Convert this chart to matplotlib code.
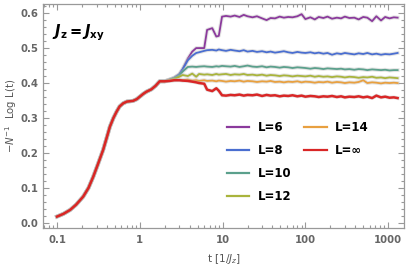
import matplotlib
matplotlib.use("Agg")
import matplotlib.pyplot as plt
import matplotlib.patheffects as pe
from matplotlib.ticker import FixedLocator, FixedFormatter, LogLocator, NullFormatter, MultipleLocator
from matplotlib.lines import Line2D

# shared early-time curve (all L coincide here)
t_early = [0.1, 0.12, 0.144, 0.17, 0.207, 0.24, 0.274, 0.31, 0.361, 0.40, 0.435, 0.48,
           0.524, 0.57, 0.63, 0.70, 0.83, 0.92, 1.0, 1.1, 1.2, 1.38, 1.55, 1.74, 2.0]
y_early = [0.018, 0.026, 0.037, 0.052, 0.075, 0.100, 0.132, 0.166, 0.209, 0.245, 0.275, 0.300,
           0.318, 0.333, 0.342, 0.347, 0.349, 0.354, 0.361, 0.369, 0.375, 0.382, 0.392, 0.405, 0.405]

t_late = [2.3, 2.6, 3.0, 3.3, 3.8, 4.3, 4.8, 5.2, 6.0, 6.5,
          7.5, 8.4, 9.0, 9.85, 11, 12.5, 14, 16, 18, 20,
          23, 26, 30, 34, 38, 43, 49, 55, 62, 70,
          80, 90, 100, 115, 130, 145, 165, 185, 210, 240,
          270, 300, 340, 390, 440, 500, 560, 640, 720, 820,
          920, 1040, 1170, 1300]

y_L6 = [0.410, 0.415, 0.425, 0.440, 0.470, 0.490, 0.500, 0.500, 0.500, 0.552,
        0.557, 0.533, 0.535, 0.590, 0.592, 0.590, 0.593, 0.589, 0.595, 0.591,
        0.588, 0.591, 0.585, 0.580, 0.586, 0.585, 0.590, 0.587, 0.589, 0.588,
        0.591, 0.597, 0.583, 0.588, 0.582, 0.589, 0.586, 0.590, 0.584, 0.587,
        0.585, 0.590, 0.586, 0.587, 0.582, 0.589, 0.587, 0.577, 0.591, 0.579,
        0.589, 0.585, 0.588, 0.587]
y_L8 = [0.410, 0.415, 0.425, 0.440, 0.465, 0.478, 0.486, 0.488, 0.492, 0.494,
        0.495, 0.493, 0.496, 0.494, 0.492, 0.495, 0.493, 0.491, 0.494, 0.490,
        0.492, 0.489, 0.491, 0.488, 0.490, 0.487, 0.489, 0.491, 0.488, 0.486,
        0.489, 0.487, 0.486, 0.488, 0.485, 0.487, 0.484, 0.486, 0.481, 0.485,
        0.483, 0.486, 0.484, 0.482, 0.485, 0.483, 0.486, 0.482, 0.484, 0.481,
        0.483, 0.482, 0.484, 0.486]
y_L10 = [0.410, 0.414, 0.422, 0.433, 0.446, 0.447, 0.446, 0.447, 0.448, 0.447,
         0.446, 0.448, 0.447, 0.449, 0.448, 0.447, 0.449, 0.446, 0.448, 0.450,
         0.447, 0.446, 0.448, 0.445, 0.447, 0.446, 0.444, 0.446, 0.445, 0.443,
         0.445, 0.444, 0.443, 0.441, 0.443, 0.442, 0.440, 0.442, 0.441, 0.440,
         0.441, 0.439, 0.440, 0.438, 0.440, 0.439, 0.437, 0.439, 0.438, 0.437,
         0.438, 0.436, 0.437, 0.437]
y_L12 = [0.409, 0.412, 0.418, 0.423, 0.420, 0.427, 0.418, 0.426, 0.424, 0.425,
         0.423, 0.426, 0.424, 0.425, 0.426, 0.423, 0.425, 0.424, 0.426, 0.423,
         0.424, 0.422, 0.424, 0.421, 0.423, 0.422, 0.420, 0.422, 0.421, 0.419,
         0.421, 0.420, 0.419, 0.421, 0.418, 0.420, 0.418, 0.419, 0.417, 0.419,
         0.418, 0.416, 0.418, 0.417, 0.415, 0.417, 0.416, 0.418, 0.415, 0.416,
         0.414, 0.416, 0.415, 0.414]
y_L14 = [0.407, 0.408, 0.409, 0.408, 0.410, 0.407, 0.408, 0.406, 0.408, 0.406,
         0.407, 0.405, 0.407, 0.406, 0.404, 0.406, 0.405, 0.407, 0.404, 0.406,
         0.405, 0.403, 0.405, 0.404, 0.406, 0.403, 0.404, 0.402, 0.404, 0.403,
         0.405, 0.402, 0.404, 0.403, 0.401, 0.403, 0.402, 0.404, 0.401, 0.403,
         0.402, 0.400, 0.402, 0.401, 0.403, 0.408, 0.400, 0.402, 0.401, 0.399,
         0.401, 0.400, 0.401, 0.400]
y_Linf = [0.406, 0.408, 0.408, 0.407, 0.406, 0.404, 0.402, 0.400, 0.398, 0.381,
          0.377, 0.385, 0.378, 0.365, 0.364, 0.366, 0.365, 0.367, 0.364, 0.366,
          0.365, 0.367, 0.363, 0.366, 0.364, 0.365, 0.362, 0.364, 0.363, 0.365,
          0.362, 0.364, 0.361, 0.363, 0.362, 0.360, 0.362, 0.361, 0.363, 0.360,
          0.362, 0.359, 0.361, 0.360, 0.362, 0.359, 0.361, 0.357, 0.364, 0.359,
          0.361, 0.358, 0.359, 0.357]

labels = ["L=6", "L=8", "L=10", "L=12", "L=14", "L=\u221e"]
colors = ["#8b3a9c", "#4a6ed0", "#5ba08c", "#a9b43c", "#e8a040", "#d92626"]
series = [y_L6, y_L8, y_L10, y_L12, y_L14, y_Linf]

fig = plt.figure(figsize=(4.07, 2.69), dpi=100)
ax = fig.add_axes([0.106, 0.152, 0.887, 0.833])

halo = [pe.Stroke(linewidth=2.8, foreground="#bbbbbb", alpha=0.4), pe.Normal()]
handles = []
for lab, col, ys in zip(labels, colors, series):
    lw = 1.8 if lab == "L=\u221e" else 1.3
    ax.plot(t_early + t_late, y_early + ys, color=col, lw=lw, path_effects=halo,
            solid_joinstyle="round")
    handles.append(Line2D([], [], color=col, lw=1.6))

ax.set_xscale("log")
ax.set_xlim(0.068, 1560)
ax.set_ylim(-0.015, 0.626)

grey = "#999999"
for s in ax.spines.values():
    s.set_color(grey)
    s.set_linewidth(0.9)

ax.xaxis.set_major_locator(FixedLocator([0.1, 1, 10, 100, 1000]))
ax.xaxis.set_major_formatter(FixedFormatter(["0.1", "1", "10", "100", "1000"]))
ax.xaxis.set_minor_locator(LogLocator(base=10, subs=range(2, 10)))
ax.xaxis.set_minor_formatter(NullFormatter())
ax.yaxis.set_major_locator(MultipleLocator(0.1))
ax.yaxis.set_minor_locator(MultipleLocator(0.02))
ax.yaxis.set_major_formatter(plt.FuncFormatter(lambda v, p: f"{v:.1f}"))

ax.tick_params(which="both", direction="in", top=True, right=True, color=grey, width=0.8)
ax.tick_params(which="major", length=4.5)
ax.tick_params(which="minor", length=2.5)
for lbl in ax.get_xticklabels() + ax.get_yticklabels():
    lbl.set_fontsize(7.3)
    lbl.set_fontweight("bold")
    lbl.set_color("#666666")
ax.tick_params(axis="x", pad=5)
ax.tick_params(axis="y", pad=3.5)

ax.set_xlabel(r"t [1/$J_z$]", fontsize=7.5, color="#555555", labelpad=5)
ax.set_ylabel(r"$-N^{-1}$  Log L(t)", fontsize=7.3, color="#555555")
ax.yaxis.set_label_coords(-0.068, 0.5)

ax.text(0.025, 0.87, r"$\mathbfit{J}_{\mathbf{z}}\mathbf{=}\mathbfit{J}_{\mathbf{xy}}$",
        transform=ax.transAxes, fontsize=10.5, color="black", va="center")

blank = Line2D([], [], color="none")
leg_handles = handles[:4] + [handles[4], handles[5], blank, blank]
leg_labels = labels[:4] + [labels[4], labels[5], "", ""]
leg = ax.legend(leg_handles, leg_labels, ncol=2, frameon=False,
                loc="upper left", bbox_to_anchor=(0.48, 0.525),
                prop={"weight": "bold", "size": 8.5},
                handlelength=1.9, handletextpad=0.7, columnspacing=1.1,
                labelspacing=0.85)

fig.savefig("out.png", dpi=100)
